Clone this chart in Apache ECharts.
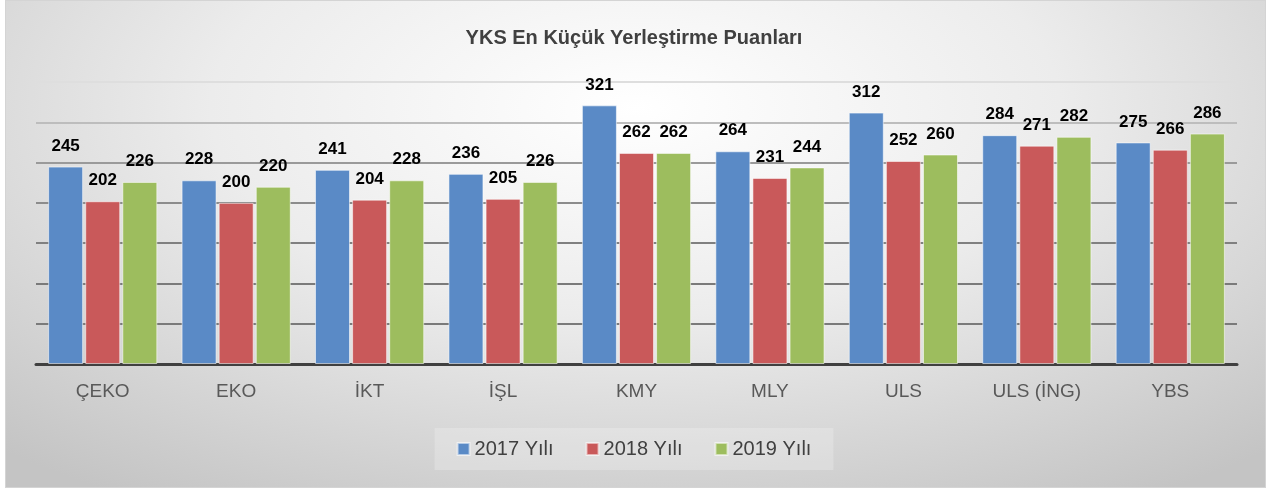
<!DOCTYPE html>
<html>
<head>
<meta charset="utf-8">
<script src="https://cdn.jsdelivr.net/npm/echarts@6/dist/echarts.min.js"></script>
<style>
  html, body { margin: 0; padding: 0; background: #ffffff; }
  #frame {
    position: absolute; left: 5px; top: 0; width: 1259px; height: 486px;
    border: 1px solid #d4d4d4;
    background: radial-gradient(ellipse 75% 95% at 50% 22%, #ffffff 0%, #ececec 45%, #d6d6d6 75%, #c4c4c4 100%);
  }
  #chart { position: absolute; left: 0; top: 0; width: 1268px; height: 490px; }
</style>
</head>
<body>
<div id="frame"></div>
<div id="chart"></div>
<script>
// Programmes and their minimum placement scores per year
const categories = ['ÇEKO', 'EKO', 'İKT', 'İŞL', 'KMY', 'MLY', 'ULS', 'ULS (İNG)', 'YBS'];
const seriesNames = ['2017 Yılı', '2018 Yılı', '2019 Yılı'];
const scores2017 = [245, 228, 241, 236, 321, 264, 312, 284, 275];
const scores2018 = [202, 200, 204, 205, 262, 231, 252, 271, 266];
const scores2019 = [226, 220, 228, 226, 262, 244, 260, 282, 286];
const colors = ['#5a8ac6', '#c9595a', '#9dbd5e'];

const chart = echarts.init(document.getElementById('chart'), null, { renderer: 'canvas' });

function barSeries(name, data, color) {
  return {
    name: name,
    type: 'bar',
    data: data,
    barWidth: 35,
    barGap: '6%',
    itemStyle: { color: color, borderColor: 'rgba(255,255,255,0.55)', borderWidth: 1 },
    label: {
      show: true,
      position: 'top',
      distance: 12,
      color: '#000000',
      fontFamily: 'Liberation Sans',
      fontWeight: 'bold',
      fontSize: 17
    }
  };
}

chart.setOption({
  backgroundColor: 'transparent',
  color: colors,
  title: {
    text: 'YKS En Küçük Yerleştirme Puanları',
    left: 'center',
    top: 23,
    textStyle: { fontFamily: 'Liberation Sans', fontWeight: 'bold', fontSize: 20, color: '#404040' }
  },
  legend: {
    data: seriesNames,
    left: 'center',
    top: 428,
    itemWidth: 12,
    itemHeight: 12,
    itemGap: 32,
    padding: [11, 22, 11, 22],
    backgroundColor: 'rgba(255,255,255,0.22)',
    textStyle: { fontFamily: 'Liberation Sans', fontSize: 20, color: '#404040' },
    icon: 'rect'
  },
  grid: { left: 36, right: 31, top: 82, bottom: 126, containLabel: false },
  xAxis: {
    type: 'category',
    data: categories,
    axisLine: { show: true, lineStyle: { color: '#404040', width: 3 } },
    axisTick: { show: false },
    axisLabel: { margin: 18, fontFamily: 'Liberation Sans', fontSize: 19, color: '#595959' }
  },
  yAxis: {
    type: 'value',
    min: 0,
    max: 350,
    interval: 50,
    axisLine: { show: false },
    axisTick: { show: false },
    axisLabel: { show: false },
    splitLine: {
      lineStyle: {
        width: 2,
        color: ['#808080', '#7a7a7a', '#7a7a7a', '#808080', '#8c8c8c', '#9a9a9a', '#bdbdbd', '#dedede']
      }
    }
  },
  series: [
    barSeries(seriesNames[0], scores2017, colors[0]),
    barSeries(seriesNames[1], scores2018, colors[1]),
    barSeries(seriesNames[2], scores2019, colors[2])
  ]
});
</script>
</body>
</html>
